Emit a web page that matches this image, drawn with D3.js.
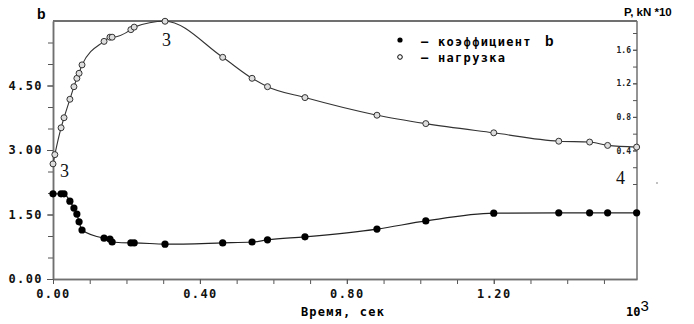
<!DOCTYPE html>
<html>
<head>
<meta charset="utf-8">
<script src="https://cdn.jsdelivr.net/npm/d3@7"></script>
<style>
  body { margin: 0; background: #fff; }
  svg { display: block; }
  .tick text { font-family: "DejaVu Sans Mono", monospace; font-weight: bold; }
</style>
</head>
<body>
<svg id="chart"></svg>
<script>
// time, 10^3 s
const bTime = [0, 0.022, 0.030, 0.046, 0.057, 0.065, 0.071, 0.079, 0.139, 0.155, 0.161, 0.212, 0.221,
  0.305, 0.462, 0.542, 0.584, 0.686, 0.882, 1.015, 1.2, 1.377, 1.461, 1.510, 1.589];
// coefficient b
const bValue = [1.98, 1.98, 1.98, 1.81, 1.65, 1.51, 1.33, 1.14, 0.95, 0.93, 0.86, 0.84, 0.84,
  0.81, 0.84, 0.86, 0.91, 0.98, 1.16, 1.35, 1.53, 1.54, 1.54, 1.54, 1.54];
const loadTime = [0, 0.005, 0.022, 0.030, 0.046, 0.057, 0.065, 0.071, 0.079, 0.139, 0.155, 0.161, 0.212,
  0.221, 0.305, 0.462, 0.542, 0.584, 0.686, 0.882, 1.015, 1.2, 1.377, 1.461, 1.510, 1.589];
// load P, kN*10
const loadValue = [0.24, 0.35, 0.67, 0.79, 1.01, 1.16, 1.26, 1.32, 1.42, 1.70, 1.75, 1.75, 1.84,
  1.87, 1.94, 1.51, 1.26, 1.16, 1.03, 0.82, 0.72, 0.61, 0.51, 0.50, 0.46, 0.44];

const xMajor = [0, 0.4, 0.8, 1.2];
const xMinor = d3.range(0.1, 1.59, 0.1);
const yMajor = [0, 1.5, 3, 4.5];
const yMinor = d3.range(0.5, 6, 0.5);
const rMajor = [0.4, 0.8, 1.2, 1.6];
const rMinor = d3.range(0, 1.81, 0.2);

const width = 694, height = 324;
const margin = { left: 53, right: 57, top: 21, bottom: 45 };
const axisColor = "#707070";

const svg = d3.select("#chart").attr("width", width).attr("height", height);

const x = d3.scaleLinear().domain([0, 1.59]).range([margin.left, width - margin.right]);
const yL = d3.scaleLinear().domain([0, 6]).range([height - margin.bottom, margin.top]);
const yR = d3.scaleLinear().domain([0, 1.8]).range([184, 33]);

// frame top line
svg.append("line")
  .attr("x1", x(0)).attr("x2", x(1.59))
  .attr("y1", margin.top).attr("y2", margin.top)
  .attr("stroke", axisColor).attr("stroke-width", 2);

function styleAxis(g) {
  g.selectAll("path.domain").attr("stroke", axisColor).attr("stroke-width", 1.5);
  g.selectAll(".tick line").attr("stroke", "#555");
}

// minor ticks
svg.append("g").attr("transform", `translate(0,${yL(0)})`)
  .call(d3.axisBottom(x).tickValues(xMinor).tickSize(5).tickFormat("").tickSizeOuter(0))
  .call(styleAxis);
svg.append("g").attr("transform", `translate(${x(0)},0)`)
  .call(d3.axisLeft(yL).tickValues(yMinor).tickSize(5).tickFormat("").tickSizeOuter(0))
  .call(styleAxis);

// x axis
svg.append("g").attr("transform", `translate(0,${yL(0)})`)
  .call(d3.axisBottom(x).tickValues(xMajor).tickSize(5).tickPadding(5).tickSizeOuter(0)
    .tickFormat(d3.format(".2f")))
  .call(styleAxis)
  .call((g) => g.selectAll(".tick text").attr("font-size", 12).attr("fill", "#111")
    .attr("letter-spacing", 1.4));

// left axis
svg.append("g").attr("transform", `translate(${x(0)},0)`)
  .call(d3.axisLeft(yL).tickValues(yMajor).tickSize(6).tickPadding(4).tickSizeOuter(0)
    .tickFormat(d3.format(".2f")))
  .call(styleAxis)
  .call((g) => g.selectAll(".tick text").attr("font-size", 12).attr("fill", "#111")
    .attr("letter-spacing", 1.4));

// right axis (ticks and labels inside)
const rightAxis = svg.append("g").attr("transform", `translate(${x(1.59)},0)`);
rightAxis.append("line")
  .attr("y1", margin.top).attr("y2", yL(0))
  .attr("stroke", axisColor).attr("stroke-width", 1.5);
rightAxis.call(d3.axisLeft(yR).tickValues(rMinor).tickSize(4).tickFormat(""))
  .call((g) => g.select("path.domain").remove())
  .call(styleAxis);
rightAxis.append("g")
  .call(d3.axisLeft(yR).tickValues(rMajor).tickSize(4).tickPadding(2).tickFormat(d3.format(".1f")))
  .call((g) => g.select("path.domain").remove())
  .call(styleAxis)
  .call((g) => g.selectAll(".tick text").attr("font-size", 8).attr("fill", "#222"));

// lines
const line = d3.line().curve(d3.curveMonotoneX);
const bPts = bTime.map((t, i) => [x(t), yL(bValue[i])]);
const loadPts = loadTime.map((t, i) => [x(t), yR(loadValue[i])]);

svg.append("path").attr("d", line(bPts))
  .attr("fill", "none").attr("stroke", "#222").attr("stroke-width", 1.2);
svg.append("path").attr("d", line(loadPts))
  .attr("fill", "none").attr("stroke", "#333").attr("stroke-width", 1.1);

svg.append("g").selectAll("circle").data(bPts).join("circle")
  .attr("cx", (d) => d[0]).attr("cy", (d) => d[1]).attr("r", 3.6).attr("fill", "#000");
svg.append("g").selectAll("circle").data(loadPts).join("circle")
  .attr("cx", (d) => d[0]).attr("cy", (d) => d[1]).attr("r", 3)
  .attr("fill", "#ddd").attr("stroke", "#333").attr("stroke-width", 1);

// legend
const legend = svg.append("g").attr("font-family", "DejaVu Sans Mono, monospace")
  .attr("font-weight", "bold").attr("font-size", 12).attr("letter-spacing", 1.3);
legend.append("circle").attr("cx", 400).attr("cy", 40).attr("r", 2.6).attr("fill", "#000");
legend.append("circle").attr("cx", 400).attr("cy", 57).attr("r", 2.3)
  .attr("fill", "#fff").attr("stroke", "#000");
legend.append("text").attr("x", 421).attr("y", 46).text("– коэффициент");
legend.append("text").attr("x", 545).attr("y", 46).attr("font-family", "Liberation Sans, Arial")
  .attr("font-size", 14).text("b");
legend.append("text").attr("x", 421).attr("y", 62).text("– нагрузка");

// axis titles
svg.append("text").attr("x", 37).attr("y", 19)
  .attr("font-family", "Liberation Sans, Arial").attr("font-weight", "bold").attr("font-size", 14)
  .text("b");
svg.append("text").attr("x", 624).attr("y", 16)
  .attr("font-family", "Liberation Sans, Arial").attr("font-weight", "bold").attr("font-size", 11.5)
  .text("P, kN *10");
svg.append("text").attr("x", 343).attr("y", 316).attr("text-anchor", "middle")
  .attr("font-family", "DejaVu Sans Mono, monospace").attr("font-weight", "bold")
  .attr("font-size", 12).attr("letter-spacing", 1.2)
  .text("Время, сек");
const pow = svg.append("text").attr("x", 626).attr("y", 316)
  .attr("font-family", "DejaVu Sans Mono, monospace").attr("font-weight", "bold").attr("font-size", 12);
pow.append("tspan").text("10");
pow.append("tspan").attr("dy", -5).attr("font-weight", "normal").attr("font-size", 15)
  .attr("font-family", "Liberation Sans, Arial").text("3");

// curve annotations
const note = svg.append("g").attr("font-family", "Liberation Serif, Times New Roman, serif")
  .attr("font-size", 18).attr("fill", "#111");
note.append("text").attr("x", 162).attr("y", 46).text("3");
note.append("text").attr("x", 60).attr("y", 177).text("3");
note.append("text").attr("x", 616).attr("y", 184).text("4");
svg.append("circle").attr("cx", 657).attr("cy", 183).attr("r", 0.7).attr("fill", "#555");
</script>
</body>
</html>
